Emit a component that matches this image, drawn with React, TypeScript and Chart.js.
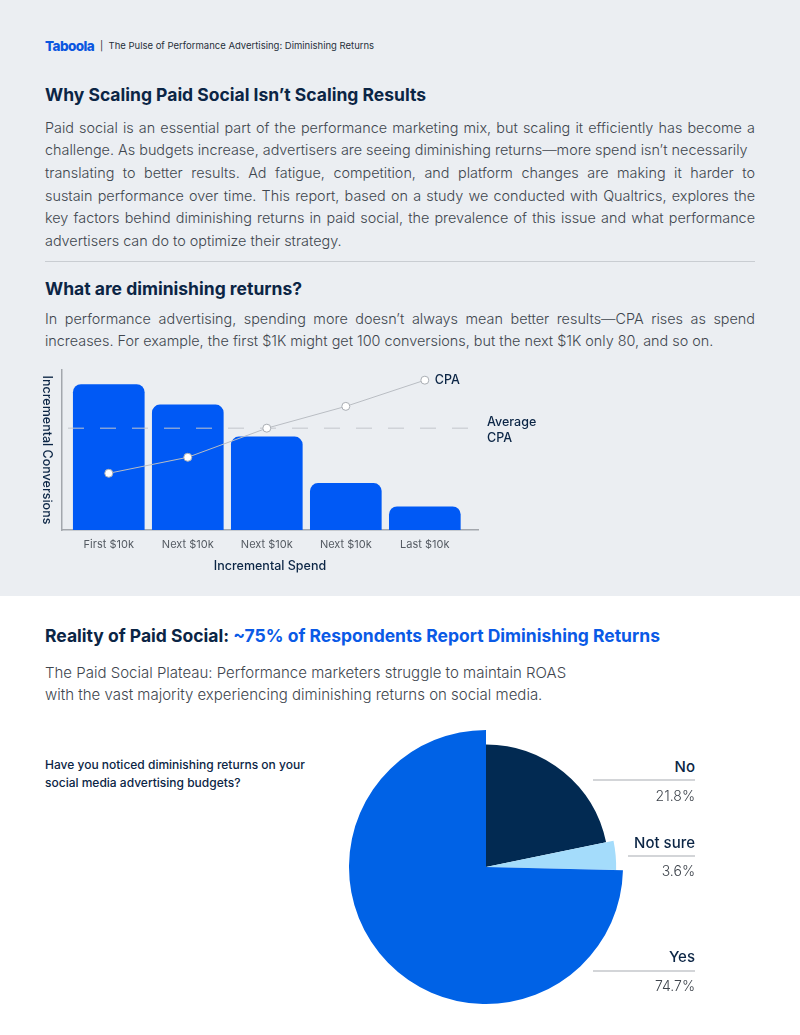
import React, { useEffect, useRef } from 'react';
import { Chart, registerables } from 'chart.js';
Chart.register(...registerables);

// ---------- data ----------
const spendCategories = ['First $10k', 'Next $10k', 'Next $10k', 'Next $10k', 'Last $10k'];
const incrementalConversions = [100, 86, 64, 32, 16];
const cpaValues = [39, 50, 70, 85, 103];
const averageCpa = 70;
const cpaLabel = 'CPA';
const averageCpaLabel = ['Average', 'CPA'];
const yAxisTitle = 'Incremental Conversions';
const xAxisTitle = 'Incremental Spend';

const pieLabels = ['No', 'Not sure', 'Yes'];
const pieValues = [21.8, 3.6, 74.7];

// ---------- styles ----------
const FONT = "Inter, 'Noto Sans', 'DejaVu Sans', sans-serif";
const NAVY = '#0b2545';
const BODY = '#40464e';
const BAR_BLUE = '#0059f5';
const PIE_COLORS = ['#022a52', '#a4dcfb', '#0062e6'];
const PIE_RADIUS_FACTORS = [0.895, 0.95, 1];

const para1 = [
  'Paid social is an essential part of the performance marketing mix, but scaling it efficiently has become a',
  'challenge. As budgets increase, advertisers are seeing diminishing returns\u2014more spend isn\u2019t necessarily',
  'translating to better results. Ad fatigue, competition, and platform changes are making it harder to',
  'sustain performance over time. This report, based on a study we conducted with Qualtrics, explores the',
  'key factors behind diminishing returns in paid social, the prevalence of this issue and what performance',
  'advertisers can do to optimize their strategy.',
];
const para1Justify = [true, false, true, true, true, false];
const para2 = [
  'In performance advertising, spending more doesn\u2019t always mean better results\u2014CPA rises as spend',
  'increases. For example, the first $1K might get 100 conversions, but the next $1K only 80, and so on.',
];
const para2Justify = [true, false];
const subtitle = [
  'The Paid Social Plateau: Performance marketers struggle to maintain ROAS',
  'with the vast majority experiencing diminishing returns on social media.',
];
const question = ['Have you noticed diminishing returns on your', 'social media advertising budgets?'];

function TextLines({ lines, justify, top, lh, size, color, weight, width }: any) {
  return (
    <>
      {lines.map((t: string, i: number) => (
        <div
          key={i}
          style={{
            position: 'absolute',
            left: 45,
            width: width ?? 710,
            top: top + i * lh,
            height: lh,
            lineHeight: lh + 'px',
            fontSize: size,
            color,
            fontWeight: weight,
            textAlign: justify && justify[i] ? 'justify' : 'left',
            textAlignLast: justify && justify[i] ? 'justify' : 'left',
            whiteSpace: justify && justify[i] ? 'normal' : 'nowrap',
          } as any}
        >
          {t}
        </div>
      ))}
    </>
  );
}

function BarChart() {
  const ref = useRef<HTMLCanvasElement>(null);
  useEffect(() => {
    const annot = {
      id: 'annot',
      afterDatasetDraw(chart: any, args: any) {
        if (args.index !== 0) return;
        const { ctx, chartArea, scales } = chart;
        const y = scales.y.getPixelForValue(averageCpa);
        ctx.save();
        ctx.strokeStyle = '#c2c6cc';
        ctx.lineWidth = 1;
        ctx.setLineDash([16, 16]);
        ctx.beginPath();
        ctx.moveTo(chartArea.left + 6, y);
        ctx.lineTo(chartArea.right, y);
        ctx.stroke();
        ctx.restore();
      },
      afterDraw(chart: any) {
        const { ctx, chartArea, scales } = chart;
        ctx.save();
        ctx.fillStyle = NAVY;
        ctx.font = `500 12.5px ${FONT}`;
        ctx.textBaseline = 'middle';
        const meta = chart.getDatasetMeta(1);
        const last = meta.data[meta.data.length - 1];
        ctx.textAlign = 'left';
        ctx.fillText(cpaLabel, last.x + 10, last.y);
        const y = scales.y.getPixelForValue(averageCpa);
        ctx.fillText(averageCpaLabel[0], chartArea.right + 9, y - 6);
        ctx.fillText(averageCpaLabel[1], chartArea.right + 9, y + 10);
        ctx.translate(chartArea.left - 15, (chartArea.top + chartArea.bottom) / 2);
        ctx.rotate(Math.PI / 2);
        ctx.textAlign = 'center';
        ctx.fillText(yAxisTitle, 0, 0);
        ctx.restore();
      },
    };
    const chart = new Chart(ref.current!, {
      type: 'bar',
      data: {
        datasets: [
          {
            type: 'bar',
            data: incrementalConversions.map((v, i) => ({ x: i, y: v })),
            backgroundColor: BAR_BLUE,
            borderRadius: 8,
            borderSkipped: 'start',
            barThickness: 71,
            order: 1,
          } as any,
          {
            type: 'line',
            data: cpaValues.map((v, i) => ({ x: i, y: v })),
            borderColor: '#b9bdc3',
            borderWidth: 1,
            pointRadius: 4,
            pointBackgroundColor: '#ffffff',
            pointBorderColor: '#a9adb3',
            pointBorderWidth: 1,
            order: 0,
          } as any,
        ],
      },
      options: {
        animation: false,
        responsive: false,
        maintainAspectRatio: false,
        layout: { padding: { left: 62, right: 82, top: 20, bottom: 10 } },
        plugins: { legend: { display: false }, tooltip: { enabled: false } },
        scales: {
          x: {
            type: 'linear',
            offset: false,
            min: -0.592,
            max: 4.673,
            grid: { display: false, drawTicks: false, offset: false },
            border: { display: true, color: '#a3a7ad', width: 1.5 },
            afterBuildTicks: (s: any) => {
              s.ticks = spendCategories.map((_, i) => ({ value: i }));
            },
            afterFit: (s: any) => {
              s.height = 50;
            },
            ticks: {
              padding: 8,
              color: '#555b63',
              font: { family: FONT, size: 11 },
              callback: (v: any) => spendCategories[v as number] ?? '',
              maxRotation: 0,
              autoSkip: false,
            },
            title: {
              display: true,
              text: xAxisTitle,
              color: NAVY,
              font: { family: FONT, size: 12.5, weight: 500 as any },
              padding: { top: 4, bottom: 6 },
            },
          },
          y: {
            min: 0,
            max: 110,
            grid: { display: false, drawTicks: false },
            border: { display: true, color: '#a3a7ad', width: 1.5 },
            ticks: { display: false },
            afterFit: (s: any) => {
              s.width = 0;
            },
          },
        },
      } as any,
      plugins: [annot],
    });
    return () => chart.destroy();
  }, []);
  return (
    <canvas
      ref={ref}
      width={560}
      height={240}
      style={{ position: 'absolute', left: 0, top: 350, width: 560, height: 240 }}
    />
  );
}

function PieChart() {
  const ref = useRef<HTMLCanvasElement>(null);
  useEffect(() => {
    const radii = {
      id: 'radii',
      beforeDatasetsDraw(chart: any) {
        const { chartArea } = chart;
        const r = Math.min(chartArea.width, chartArea.height) / 2;
        chart.getDatasetMeta(0).data.forEach((el: any, i: number) => {
          el.outerRadius = r * PIE_RADIUS_FACTORS[i];
        });
      },
    };
    const chart = new Chart(ref.current!, {
      type: 'pie',
      data: {
        labels: pieLabels,
        datasets: [{ data: pieValues, backgroundColor: PIE_COLORS, borderWidth: 0 }],
      },
      options: {
        animation: false,
        responsive: false,
        maintainAspectRatio: false,
        layout: { padding: 3 },
        plugins: { legend: { display: false }, tooltip: { enabled: false } },
      } as any,
      plugins: [radii],
    });
    return () => chart.destroy();
  }, []);
  return (
    <canvas
      ref={ref}
      width={280}
      height={280}
      style={{ position: 'absolute', left: 346, top: 727, width: 280, height: 280 }}
    />
  );
}

const pieLabelLayout = [
  { nameY: 767, lineY: 780, valueY: 796, lineLeft: 593 },
  { nameY: 843, lineY: 856, valueY: 871, lineLeft: 628 },
  { nameY: 957, lineY: 971, valueY: 986, lineLeft: 593 },
];

export default function App() {
  return (
    <div
      style={{
        position: 'relative',
        width: 800,
        height: 1035,
        overflow: 'hidden',
        background: '#ffffff',
        fontFamily: FONT,
      }}
    >
      <style>{'body{margin:0}'}</style>
      <div style={{ position: 'absolute', left: 0, top: 0, width: 800, height: 596, background: '#ebeef2' }} />

      {/* header */}
      <div
        style={{
          position: 'absolute', left: 45, top: 37, height: 18, lineHeight: '18px',
          fontSize: 13.5, fontWeight: 800, color: '#0a56e0', letterSpacing: -0.6,
        }}
      >
        Taboola
      </div>
      <div
        style={{
          position: 'absolute', left: 100, top: 38, height: 16, lineHeight: '16px',
          fontSize: 9.5, color: '#27303b', whiteSpace: 'nowrap',
        }}
      >
        |&nbsp;&nbsp;The Pulse of Performance Advertising: Diminishing Returns
      </div>

      {/* section 1 */}
      <div
        style={{
          position: 'absolute', left: 45, top: 83, height: 24, lineHeight: '24px',
          fontSize: 17.5, fontWeight: 700, color: NAVY, whiteSpace: 'nowrap',
        }}
      >
        Why Scaling Paid Social Isn’t Scaling Results
      </div>
      <TextLines lines={para1} justify={para1Justify} top={116.7} lh={22.6} size={14.4} color={BODY} weight={300} />
      <div style={{ position: 'absolute', left: 45, top: 261, width: 710, height: 1, background: '#c9cdd2' }} />

      {/* section 2 */}
      <div
        style={{
          position: 'absolute', left: 45, top: 277, height: 24, lineHeight: '24px',
          fontSize: 17.5, fontWeight: 700, color: NAVY, whiteSpace: 'nowrap',
        }}
      >
        What are diminishing returns?
      </div>
      <TextLines lines={para2} justify={para2Justify} top={307.7} lh={22.6} size={14.4} color={BODY} weight={300} />
      <BarChart />

      {/* section 3 */}
      <div
        style={{
          position: 'absolute', left: 45, top: 624, height: 24, lineHeight: '24px',
          fontSize: 17.5, fontWeight: 700, color: NAVY, whiteSpace: 'nowrap',
        }}
      >
        Reality of Paid Social: <span style={{ color: '#0a5ae6' }}>~75% of Respondents Report Diminishing Returns</span>
      </div>
      <TextLines lines={subtitle} top={662} lh={22} size={15} color={BODY} weight={300} />
      <TextLines lines={question} top={756} lh={18} size={12} color={NAVY} weight={500} />

      <PieChart />
      {pieLabels.map((name, i) => {
        const L = pieLabelLayout[i];
        return (
          <React.Fragment key={i}>
            <div
              style={{
                position: 'absolute', right: 105, top: L.nameY - 10, height: 20, lineHeight: '20px',
                fontSize: 15, fontWeight: 500, color: NAVY, whiteSpace: 'nowrap',
              }}
            >
              {name}
            </div>
            <div
              style={{
                position: 'absolute', left: L.lineLeft, width: 695 - L.lineLeft, top: L.lineY - 1,
                height: 1.5, background: '#d3d5d8',
              }}
            />
            <div
              style={{
                position: 'absolute', right: 105, top: L.valueY - 10, height: 20, lineHeight: '20px',
                fontSize: 14, fontWeight: 300, color: '#3e444c', whiteSpace: 'nowrap',
              }}
            >
              {pieValues[i]}%
            </div>
          </React.Fragment>
        );
      })}
    </div>
  );
}
